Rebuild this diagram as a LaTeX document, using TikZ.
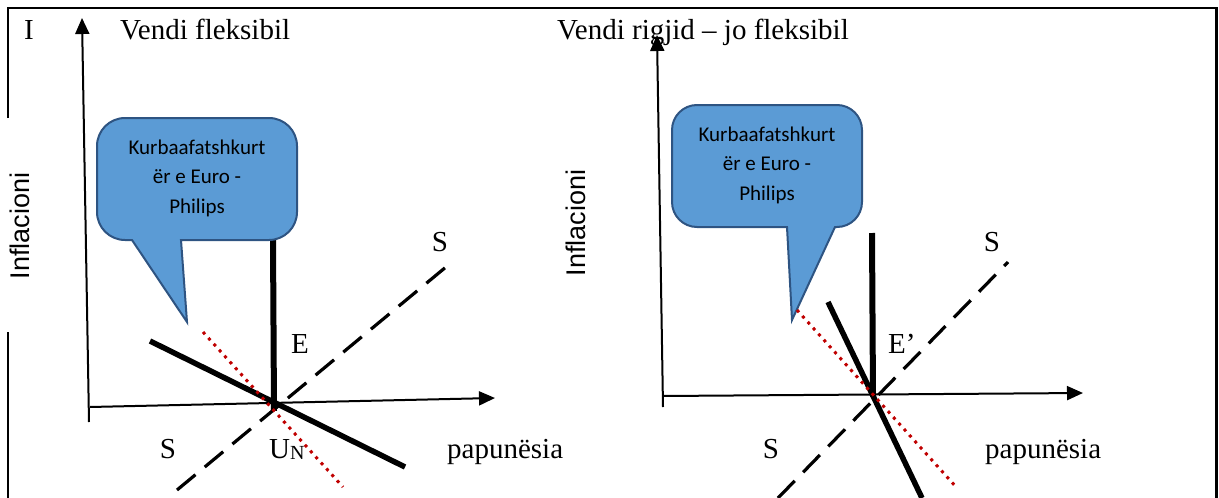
\documentclass[tikz,border=0pt]{standalone}
\usepackage{fontspec}
\setmainfont{Liberation Serif}
\newfontfamily\calibrifont{Carlito}
\newfontfamily\arialfont{Liberation Sans}
\usetikzlibrary{arrows.meta}
\definecolor{calfill}{RGB}{91,155,213}
\definecolor{caldraw}{RGB}{46,84,130}
\definecolor{dotred}{RGB}{192,0,0}
\begin{document}
\begin{tikzpicture}[x=1pt,y=-1pt,
 frame/.style={line width=2.5pt},
 axis/.style={line width=2pt,-{Triangle[length=16pt,width=14pt]}},
 curve/.style={line width=5.5pt},
 vert/.style={line width=6pt},
 sline/.style={line width=3.2pt,dash pattern=on 24pt off 12pt},
 reddot/.style={line width=3pt,draw=dotred,dash pattern=on 3pt off 5pt},
 callout/.style={fill=calfill,draw=caldraw,line width=2pt},
 lbl/.style={font=\fontsize{29}{32}\selectfont,inner sep=0pt},
 ctext/.style={font=\calibrifont\fontsize{21}{29.5}\selectfont,align=center,inner sep=0pt},
 ytext/.style={font=\arialfont\fontsize{27}{30}\selectfont,rotate=90,inner sep=0pt}]
\useasboundingbox (0,0) rectangle (1219,498);

% frame
\draw[frame] (8,118) -- (8,8) -- (1216.5,8) -- (1216.5,498);
\draw[frame] (8,332) -- (8,498);

% ---------- left panel ----------
\node[lbl,anchor=base] (roman) at (29,39) {I};
\node[lbl,anchor=base west] (t1) at (120,39) {Vendi fleksibil};
\node[ytext] (y1) at (20,226) {Inflacioni};

\coordinate (ya1) at (89,422);
\coordinate (yb1) at (82,18);
\coordinate (xa1) at (90,407);
\coordinate (xb1) at (495,398);
\draw[axis] (ya1) -- (yb1);
\draw[axis] (xa1) -- (xb1);

\coordinate (e1a) at (273,240);
\coordinate (e1b) at (274,411);
\draw[vert] (e1a) -- (e1b);

\draw[callout] (181,240) -- (269,240) arc (90:0:28) -- (297,146) arc (0:-90:28)
  -- (125,118) arc (-90:-180:28) -- (97,212) arc (180:90:28) -- (132,240)
  -- (187,322) -- cycle;
\node[ctext] (c1) at (197,178) {Kurbaafatshkurt\\ër e Euro -\\Philips};

\coordinate (p1a) at (150,341);
\coordinate (p1b) at (405,467);
\draw[curve] (p1a) -- (p1b);
\coordinate (s1a) at (177,490);
\coordinate (s1b) at (452,262);
\draw[sline] (s1a) -- (s1b);
\coordinate (r1a) at (203,332);
\coordinate (r1b) at (343,487);
\draw[reddot] (r1a) -- (r1b);

\node[lbl,anchor=base] (E1) at (300,353) {E};
\node[lbl,anchor=base] (S1u) at (440,251) {S};
\node[lbl,anchor=base] (S1l) at (168,458) {S};
\node[lbl,anchor=base west] (UN) at (269,458) {U\raisebox{-1.5pt}{\fontsize{20}{20}\selectfont N}};
\node[lbl,anchor=base west] (pa1) at (447,458) {papunësia};

% ---------- right panel ----------
\node[lbl,anchor=base west] (t2) at (557,39) {Vendi rigjid – jo fleksibil};
\node[ytext] (y2) at (576,223) {Inflacioni};

\coordinate (ya2) at (663,407);
\coordinate (yb2) at (657,35);
\coordinate (xa2) at (663,396);
\coordinate (xb2) at (1083,393);
\draw[axis] (ya2) -- (yb2);
\draw[axis] (xa2) -- (xb2);

\coordinate (e2a) at (872,233);
\coordinate (e2b) at (873,397);
\draw[vert] (e2a) -- (e2b);

\draw[callout] (835,227) -- (837,227) arc (90:0:25) -- (862,130) arc (0:-90:25)
  -- (697,105) arc (-90:-180:25) -- (672,202) arc (180:90:25) -- (787,227)
  -- (792,320) -- cycle;
\node[ctext] (c2) at (767,165) {Kurbaafatshkurt\\ër e Euro -\\Philips};

\coordinate (p2a) at (828,302);
\coordinate (p2b) at (922,498);
\draw[curve] (p2a) -- (p2b);
\coordinate (s2a) at (778,498);
\coordinate (s2b) at (1008,262);
\draw[sline] (s2a) -- (s2b);
\coordinate (r2a) at (797,310);
\coordinate (r2b) at (957,488);
\draw[reddot] (r2a) -- (r2b);

\node[lbl,anchor=base west] (E2) at (888,353) {E’};
\node[lbl,anchor=base] (S2u) at (992,251) {S};
\node[lbl,anchor=base] (S2l) at (771,458) {S};
\node[lbl,anchor=base west] (pa2) at (985,458) {papunësia};
\end{tikzpicture}
\end{document}
